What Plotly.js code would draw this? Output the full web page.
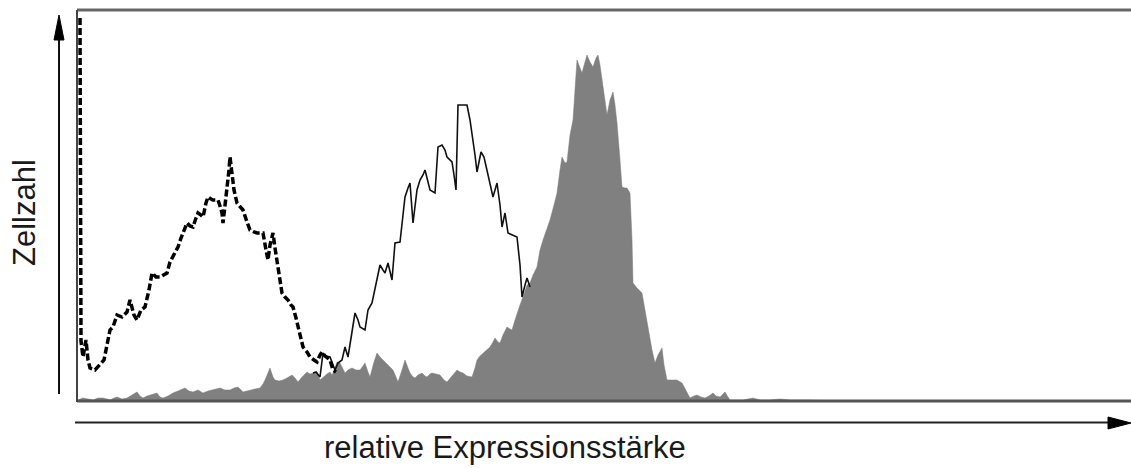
<!DOCTYPE html>
<html>
<head>
<meta charset="utf-8">
<script src="https://cdn.plot.ly/plotly-3.0.1.min.js"></script>
<style>html,body{margin:0;padding:0;background:#fff;}#chart{width:1131px;height:468px;}</style>
</head>
<body>
<div id="chart"></div>
<script>
// Channel (relative expression) and cell counts
const controlX = [3,4,6,9,11,13,18,23,27,30,33,36,40,45,50,53,57,60,64,68,72,75,79,83,87,90,93,96,99,101,104,106,108,110,113,116,119,121,124,126,129,131,134,136,139,141,143,145,146,148,150,152,153,155,157,160,163,166,170,173,177,180,183,186,189,191,193,196,198,200,203,205,208,211,214,216,219,221,224,226,230,233,237,240,243,245,248,250,253,256,259];
const controlY = [383,60,44,61,41,33,31,36,41,56,71,74,86,84,89,101,86,81,91,94,111,128,124,124,126,128,139,144,149,154,163,168,173,178,175,174,183,188,186,184,198,204,202,201,201,201,195,188,178,196,208,231,244,224,211,198,194,191,179,171,169,168,168,168,151,141,156,168,153,141,121,108,104,101,96,94,83,74,61,54,49,44,41,39,46,49,45,43,41,31,29];

const sampleAX = [236,239,243,246,249,253,258,261,265,268,271,275,278,281,283,288,291,295,298,300,303,306,308,311,313,315,318,323,326,328,331,333,336,338,340,343,346,348,351,353,358,361,365,368,370,373,375,377,379,381,386,390,393,395,398,400,404,407,410,413,416,420,423,425,428,431,435,440,443,445,448,450,453];
const sampleAY = [28,29,24,48,45,44,31,38,41,54,44,68,88,81,74,71,91,98,111,121,136,131,128,138,129,121,158,159,186,204,213,218,178,196,211,221,226,231,219,211,208,254,256,251,244,241,239,226,211,296,296,296,281,268,246,229,249,244,231,216,204,218,196,174,188,168,166,164,136,104,116,123,114];

const sampleBX = [0,1,6,11,16,21,26,30,33,37,40,45,50,55,60,63,66,70,73,77,80,83,86,91,96,101,105,108,112,116,121,126,131,136,140,143,148,153,157,161,164,166,170,173,178,183,186,188,191,193,196,198,202,206,210,215,218,221,225,230,233,236,240,243,246,250,253,255,258,260,263,266,268,271,275,279,283,286,288,291,293,297,300,303,306,311,316,319,321,325,328,331,333,336,338,341,345,348,350,353,355,359,363,367,370,375,380,383,386,390,395,398,400,403,406,410,413,416,418,421,423,426,430,433,435,438,440,443,446,450,453,456,460,463,466,470,473,477,480,483,485,488,490,493,496,498,500,503,505,508,510,513,516,519,521,523,525,528,530,533,536,538,540,543,545,548,550,553,555,556,560,565,568,571,575,578,581,585,587,590,593,596,600,605,609,613,617,620,624,628,632,636,639,643,646,648,651,653,660,666,671,676,683,693,703,713,723,733,753,1054];
const sampleBY = [0,1,3,2,1,3,3,2,1,3,4,2,3,6,9,5,3,5,6,7,8,4,3,5,8,10,12,13,10,9,11,8,10,11,12,13,11,11,13,14,11,9,10,11,12,13,17,21,29,33,24,21,20,21,23,26,23,19,24,29,27,28,29,21,24,27,29,26,33,39,38,31,28,31,33,31,31,35,38,29,24,39,48,44,41,35,31,24,19,31,41,33,28,24,23,26,28,25,24,27,28,27,26,21,19,25,31,29,28,25,24,33,41,45,48,51,54,59,63,59,58,66,74,72,71,81,88,96,104,116,118,126,134,151,161,173,181,196,208,231,244,238,239,266,281,311,341,333,328,339,346,339,334,343,346,336,321,301,286,301,309,296,278,241,214,213,213,208,161,118,113,108,91,71,51,38,46,53,36,21,21,21,21,18,11,3,5,6,4,3,5,8,5,4,7,9,4,1,1,1,2,3,1,1,2,1,1,1,0,0];

const W = 1131, H = 468;
const px = x => x / W;
const py = y => 1 - y / H;

const traces = [
  {x: sampleBX, y: sampleBY, type: 'scatter', mode: 'lines', fill: 'tozeroy',
   fillcolor: '#808080', line: {color: '#7a7a7a', width: 0.5}, hoverinfo: 'skip'},
  {x: sampleAX, y: sampleAY, type: 'scatter', mode: 'lines',
   line: {color: '#111', width: 1.6}, hoverinfo: 'skip'},
  {x: controlX, y: controlY, type: 'scatter', mode: 'lines',
   line: {color: '#000', width: 3.5, dash: '7px,3px'}, hoverinfo: 'skip'}
];

const layout = {
  width: W, height: H,
  margin: {l: 0, r: 0, t: 0, b: 0},
  paper_bgcolor: '#fff', plot_bgcolor: '#fff',
  showlegend: false,
  xaxis: {domain: [77 / W, 1], range: [0, 1054], showgrid: false, zeroline: false,
          showticklabels: false, ticks: '', showline: false, fixedrange: true},
  yaxis: {domain: [67 / H, 458 / H], range: [0, 391], showgrid: false, zeroline: false,
          showticklabels: false, ticks: '', showline: false, fixedrange: true},
  shapes: [
    {type: 'line', xref: 'paper', yref: 'paper', x0: px(77), x1: px(1131), y0: py(10), y1: py(10), line: {color: '#666', width: 3}},
    {type: 'line', xref: 'paper', yref: 'paper', x0: px(77), x1: px(1131), y0: py(401), y1: py(401), line: {color: '#555', width: 3}},
    {type: 'line', xref: 'paper', yref: 'paper', x0: px(77), x1: px(77), y0: py(10), y1: py(402), line: {color: '#444', width: 2}},
    {type: 'line', xref: 'paper', yref: 'paper', x0: px(59), x1: px(59), y0: py(394), y1: py(36), line: {color: '#111', width: 2}},
    {type: 'path', xref: 'paper', yref: 'paper', path: 'M ' + px(54) + ' ' + py(40) + ' L ' + px(64) + ' ' + py(40) + ' L ' + px(59) + ' ' + py(15) + ' Z',
     fillcolor: '#000', line: {color: '#000', width: 1}},
    {type: 'line', xref: 'paper', yref: 'paper', x0: px(75), x1: px(1112), y0: py(422.5), y1: py(422.5), line: {color: '#222', width: 2}},
    {type: 'path', xref: 'paper', yref: 'paper', path: 'M ' + px(1108) + ' ' + py(417) + ' L ' + px(1131) + ' ' + py(423) + ' L ' + px(1108) + ' ' + py(429) + ' Z',
     fillcolor: '#000', line: {color: '#000', width: 1}}
  ],
  annotations: [
    {text: 'relative Expressionsstärke', xref: 'paper', yref: 'paper', x: px(505), y: py(447),
     xanchor: 'center', yanchor: 'middle', showarrow: false,
     font: {family: 'Liberation Sans, Arial, sans-serif', size: 31, color: '#1a1a1a'}},
    {text: 'Zellzahl', xref: 'paper', yref: 'paper', x: px(25), y: py(213), textangle: -90,
     xanchor: 'center', yanchor: 'middle', showarrow: false,
     font: {family: 'Liberation Sans, Arial, sans-serif', size: 31, color: '#1a1a1a'}}
  ]
};

Plotly.newPlot('chart', traces, layout, {displayModeBar: false, staticPlot: true});
</script>
</body>
</html>
